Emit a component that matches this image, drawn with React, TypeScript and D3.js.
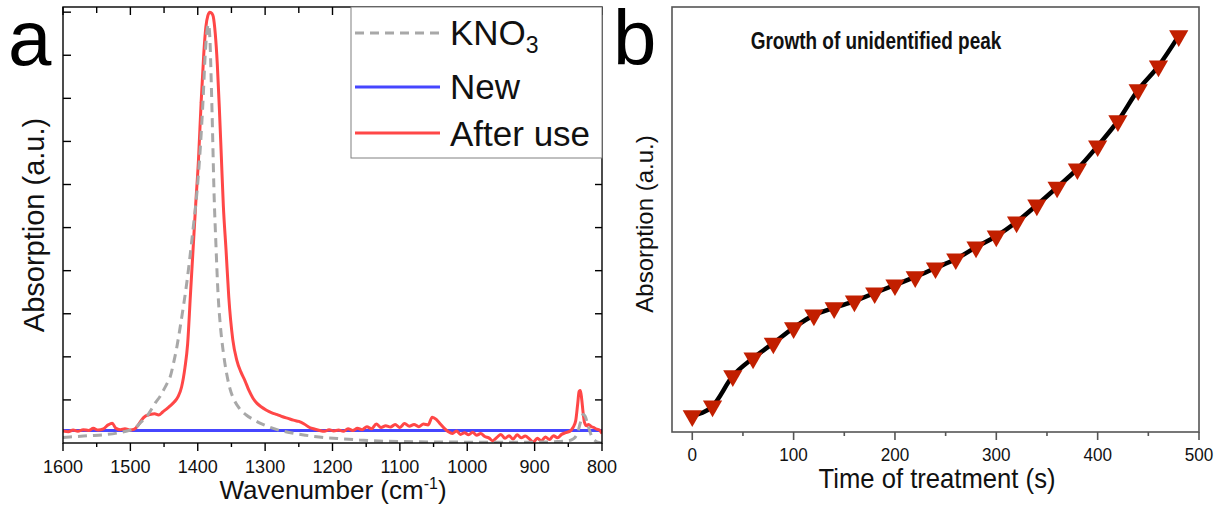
import React from "react";
import * as d3 from "d3";

const FONT = "Arial, 'Liberation Sans', Helvetica, sans-serif";

// ---------- Panel a data (wavenumber cm-1, absorption a.u.) ----------
const wavenumberTicks = [1600, 1500, 1400, 1300, 1200, 1100, 1000, 900, 800];
const wavenumberMinor = [1550, 1450, 1350, 1250, 1150, 1050, 950, 850];
const absorptionTicksA = [1, 2, 3, 4, 5, 6, 7, 8, 9, 10];

const kno3: [number, number][] = [
  [1600, 0.13], [1580, 0.15], [1560, 0.17], [1540, 0.19], [1520, 0.23], [1505, 0.28],
  [1495, 0.33], [1488, 0.42], [1482, 0.52], [1475, 0.63], [1468, 0.8], [1463, 0.93],
  [1456, 1.08], [1450, 1.25], [1445, 1.4], [1441, 1.53], [1436, 1.85], [1431, 2.23],
  [1426, 2.7], [1421, 3.2], [1416, 3.75], [1411, 4.4], [1406, 5.1], [1401, 5.85],
  [1396, 6.9], [1392, 8.0], [1389, 9.0], [1386, 9.6], [1384, 9.72], [1382, 9.4],
  [1380, 8.4], [1378, 7.2], [1376, 5.9], [1373, 4.6], [1370, 3.5], [1366, 2.65],
  [1362, 2.1], [1357, 1.6], [1352, 1.25], [1346, 1.0], [1338, 0.8], [1328, 0.65],
  [1318, 0.55], [1306, 0.45], [1294, 0.37], [1280, 0.3], [1260, 0.23], [1240, 0.18],
  [1220, 0.14], [1190, 0.1], [1160, 0.07], [1120, 0.04], [1080, 0.03], [1000, 0.02],
  [950, 0.02], [900, 0.02], [870, 0.03], [850, 0.05], [842, 0.1], [836, 0.25],
  [832, 0.48], [828, 0.66], [825, 0.62], [821, 0.42], [816, 0.18], [810, 0.05],
  [804, 0.01], [800, 0.0],
];

const fresh: [number, number][] = [
  [1600, 0.29], [1400, 0.29], [1200, 0.29], [1000, 0.29], [800, 0.29],
];

const afterUse: [number, number][] = [
  [1600, 0.28], [1592, 0.26], [1585, 0.3], [1578, 0.27], [1570, 0.31], [1562, 0.29],
  [1555, 0.34], [1548, 0.3], [1540, 0.33], [1533, 0.42], [1527, 0.46], [1522, 0.35],
  [1515, 0.31], [1508, 0.33], [1500, 0.3], [1494, 0.32], [1489, 0.4], [1484, 0.52],
  [1478, 0.62], [1471, 0.66], [1464, 0.68], [1458, 0.65], [1452, 0.72], [1447, 0.78],
  [1441, 0.86], [1435, 0.95], [1429, 1.08], [1424, 1.3], [1419, 1.75], [1415, 2.3],
  [1411, 3.4], [1407, 4.48], [1403, 5.55], [1399, 6.55], [1395, 7.9], [1391, 9.05],
  [1388, 9.65], [1385, 9.92], [1382, 10.0], [1379, 9.97], [1377, 9.9], [1374, 9.5],
  [1371, 8.8], [1368, 7.8], [1365, 6.65], [1362, 5.5], [1358, 4.48], [1354, 3.4],
  [1348, 2.4], [1342, 1.92], [1336, 1.65], [1330, 1.45], [1324, 1.22], [1318, 1.04],
  [1312, 0.92], [1306, 0.84], [1298, 0.76], [1290, 0.7], [1282, 0.66], [1274, 0.61],
  [1266, 0.57], [1258, 0.53], [1250, 0.5], [1242, 0.44], [1234, 0.36], [1226, 0.32],
  [1219, 0.29], [1212, 0.27], [1205, 0.31], [1198, 0.28], [1191, 0.3], [1184, 0.27],
  [1177, 0.33], [1170, 0.29], [1163, 0.34], [1156, 0.31], [1149, 0.38], [1142, 0.33],
  [1135, 0.44], [1128, 0.36], [1121, 0.4], [1114, 0.37], [1107, 0.43], [1100, 0.36],
  [1093, 0.45], [1086, 0.39], [1079, 0.43], [1072, 0.38], [1065, 0.44], [1058, 0.42],
  [1052, 0.6], [1046, 0.55], [1040, 0.44], [1034, 0.34], [1028, 0.26], [1022, 0.22],
  [1016, 0.28], [1010, 0.2], [1004, 0.24], [998, 0.19], [992, 0.25], [986, 0.18],
  [980, 0.22], [974, 0.15], [968, 0.12], [962, 0.05], [956, 0.13], [950, 0.2],
  [944, 0.11], [938, 0.17], [932, 0.09], [926, 0.19], [920, 0.12], [914, 0.16],
  [908, 0.1], [902, 0.02], [896, 0.11], [890, 0.05], [884, 0.14], [878, 0.08],
  [872, 0.17], [866, 0.12], [860, 0.2], [854, 0.24], [848, 0.27], [843, 0.36],
  [839, 0.52], [836, 0.92], [834, 1.2], [832, 1.22], [830, 1.0], [828, 0.7],
  [826, 0.48], [823, 0.4], [820, 0.43], [816, 0.38], [812, 0.36], [808, 0.32],
  [804, 0.3], [800, 0.22],
];

// ---------- Panel b data ----------
const timeTicks = [0, 100, 200, 300, 400, 500];
const timeMinor = [50, 150, 250, 350, 450];
const treatmentTime = [0, 20, 40, 60, 80, 100, 120, 140, 160, 180, 200, 220, 240, 260, 280, 300, 320, 340, 360, 380, 400, 420, 440, 460, 480];
const peakGrowth = [3.8, 6.1, 13.2, 17.4, 20.9, 24.5, 27.5, 29.2, 30.8, 32.7, 34.6, 36.5, 38.6, 40.7, 43.5, 46.1, 49.4, 53.4, 57.6, 61.9, 67.3, 73.2, 80.5, 86.1, 93.2];

const legendItems = [
  { key: "kno3", color: "#a8a8a8", dash: "9,6" },
  { key: "new", label: "New", color: "#4646ff", dash: "" },
  { key: "after", label: "After use", color: "#ff4747", dash: "" },
];

function SText(props: {
  x: number;
  y: number;
  size: number;
  sx?: number;
  anchor?: string;
  weight?: string;
  children: React.ReactNode;
}) {
  const { x, y, size, sx = 1, anchor = "middle", weight = "normal", children } = props;
  return (
    <text
      transform={`translate(${x},${y}) scale(${sx},1)`}
      fontSize={size}
      textAnchor={anchor}
      fontWeight={weight}
      fill="#111"
    >
      {children}
    </text>
  );
}

export default function App() {
  // Panel a scales
  const xA = d3.scaleLinear().domain([1600, 800]).range([63, 602]);
  const yA = d3.scaleLinear().domain([0, 10.12]).range([443, 7]);
  const lineA = d3
    .line<[number, number]>()
    .x((d) => xA(d[0]))
    .y((d) => yA(d[1]))
    .curve(d3.curveMonotoneX);

  // Panel b scales
  const xB = d3.scaleLinear().domain([-20, 500]).range([672, 1199]);
  const yB = d3.scaleLinear().domain([0, 100]).range([432, 7]);
  const pts = treatmentTime.map((t, i) => [t, peakGrowth[i]] as [number, number]);
  const lineB = d3
    .line<[number, number]>()
    .x((d) => xB(d[0]))
    .y((d) => yB(d[1]))
    .curve(d3.curveMonotoneX);
  const tri = d3.symbol().type(d3.symbolTriangle).size(160)();

  const [ax0, ax1] = xA.range();
  const [ay0, ay1] = yA.range();
  const [bx0, bx1] = xB.range();
  const [by0, by1] = yB.range();

  return (
    <svg
      width={1225}
      height={506}
      style={{ position: "absolute", left: 0, top: 0, background: "#fff" }}
      fontFamily={FONT}
    >
      <rect x={0} y={0} width={1225} height={506} fill="#fff" />
      {/* ================= Panel a ================= */}
      <text x={8} y={65} fontSize={78} fill="#000">a</text>

      <defs>
        <clipPath id="clipA">
          <rect x={ax0} y={ay1} width={ax1 - ax0} height={ay0 - ay1} />
        </clipPath>
      </defs>

      <g clipPath="url(#clipA)">
        <path d={lineA(fresh) || ""} fill="none" stroke="#4646ff" strokeWidth={3} />
        <path d={lineA(afterUse) || ""} fill="none" stroke="#ff4747" strokeWidth={3} strokeLinejoin="round" />
        <path d={lineA(kno3) || ""} fill="none" stroke="#a8a8a8" strokeWidth={3} strokeDasharray="9,6" />
      </g>

      {/* frame */}
      <rect x={ax0} y={ay1} width={ax1 - ax0} height={ay0 - ay1} fill="none" stroke="#000" strokeWidth={1.4} />

      {/* bottom ticks */}
      {wavenumberTicks.map((w) => (
        <g key={"bt" + w}>
          <line x1={xA(w)} x2={xA(w)} y1={ay0} y2={ay0 + 8} stroke="#000" strokeWidth={1.4} />
          <SText x={xA(w)} y={473} size={18}>{w}</SText>
        </g>
      ))}
      {wavenumberMinor.map((w) => (
        <line key={"bm" + w} x1={xA(w)} x2={xA(w)} y1={ay0} y2={ay0 + 4} stroke="#000" strokeWidth={1.4} />
      ))}
      {/* top ticks (inward) */}
      {wavenumberTicks.map((w) => (
        <line key={"tt" + w} x1={xA(w)} x2={xA(w)} y1={ay1} y2={ay1 + 8} stroke="#000" strokeWidth={1.4} />
      ))}
      {wavenumberMinor.map((w) => (
        <line key={"tm" + w} x1={xA(w)} x2={xA(w)} y1={ay1} y2={ay1 + 6} stroke="#000" strokeWidth={1.4} />
      ))}
      {/* left/right ticks (inward) */}
      {absorptionTicksA.map((v) => (
        <g key={"ly" + v}>
          <line x1={ax0} x2={ax0 + 8} y1={yA(v)} y2={yA(v)} stroke="#000" strokeWidth={1.4} />
          <line x1={ax1} x2={ax1 - 7} y1={yA(v)} y2={yA(v)} stroke="#000" strokeWidth={1.4} />
        </g>
      ))}

      {/* axis labels */}
      <text x={333} y={499} fontSize={26} textAnchor="middle" fill="#111">
        Wavenumber (cm<tspan dy={-10} fontSize={16}>-1</tspan><tspan dy={10}>)</tspan>
      </text>
      <text transform="translate(44,225) rotate(-90)" fontSize={29} textAnchor="middle" fill="#111">
        Absorption (a.u.)
      </text>

      {/* legend */}
      <rect x={351} y={ay1} width={ax1 - 351} height={158 - ay1} fill="#fff" stroke="#808080" strokeWidth={1} />
      {legendItems.map((it, i) => {
        const ly = [33, 87, 133][i];
        const by = [45, 99, 146][i];
        return (
          <g key={it.key}>
            <line x1={355} x2={440} y1={ly} y2={ly} stroke={it.color} strokeWidth={3} strokeDasharray={it.dash || undefined} />
            {it.key === "kno3" ? (
              <text x={450} y={by} fontSize={35} fill="#111">
                KNO<tspan dy={8} fontSize={23}>3</tspan>
              </text>
            ) : (
              <text x={450} y={by} fontSize={35} fill="#111">{it.label}</text>
            )}
          </g>
        );
      })}

      {/* ================= Panel b ================= */}
      <text x={613} y={65} fontSize={78} fill="#000">b</text>

      <rect x={bx0} y={by1} width={bx1 - bx0} height={by0 - by1} fill="none" stroke="#555" strokeWidth={1.6} />
      {timeTicks.map((t) => (
        <g key={"bx" + t}>
          <line x1={xB(t)} x2={xB(t)} y1={by0} y2={by0 + 8} stroke="#555" strokeWidth={1.6} />
          <SText x={xB(t)} y={461} size={19} sx={0.9}>{t}</SText>
        </g>
      ))}
      {timeMinor.map((t) => (
        <line key={"bxm" + t} x1={xB(t)} x2={xB(t)} y1={by0} y2={by0 + 4} stroke="#555" strokeWidth={1.6} />
      ))}

      <path d={lineB(pts) || ""} fill="none" stroke="#000" strokeWidth={4.5} strokeLinejoin="round" />
      {pts.map((d, i) => (
        <path
          key={"m" + i}
          d={tri || ""}
          transform={`translate(${xB(d[0])},${yB(d[1])}) rotate(180)`}
          fill="#c21f00"
        />
      ))}

      <SText x={876} y={49} size={24} sx={0.79} weight="bold">
        Growth of unidentified peak
      </SText>
      <SText x={937} y={488} size={27} sx={0.95}>
        Time of treatment (s)
      </SText>
      <text transform="translate(653,224) rotate(-90)" fontSize={24} textAnchor="middle" fill="#111">
        Absorption (a.u.)
      </text>
    </svg>
  );
}
